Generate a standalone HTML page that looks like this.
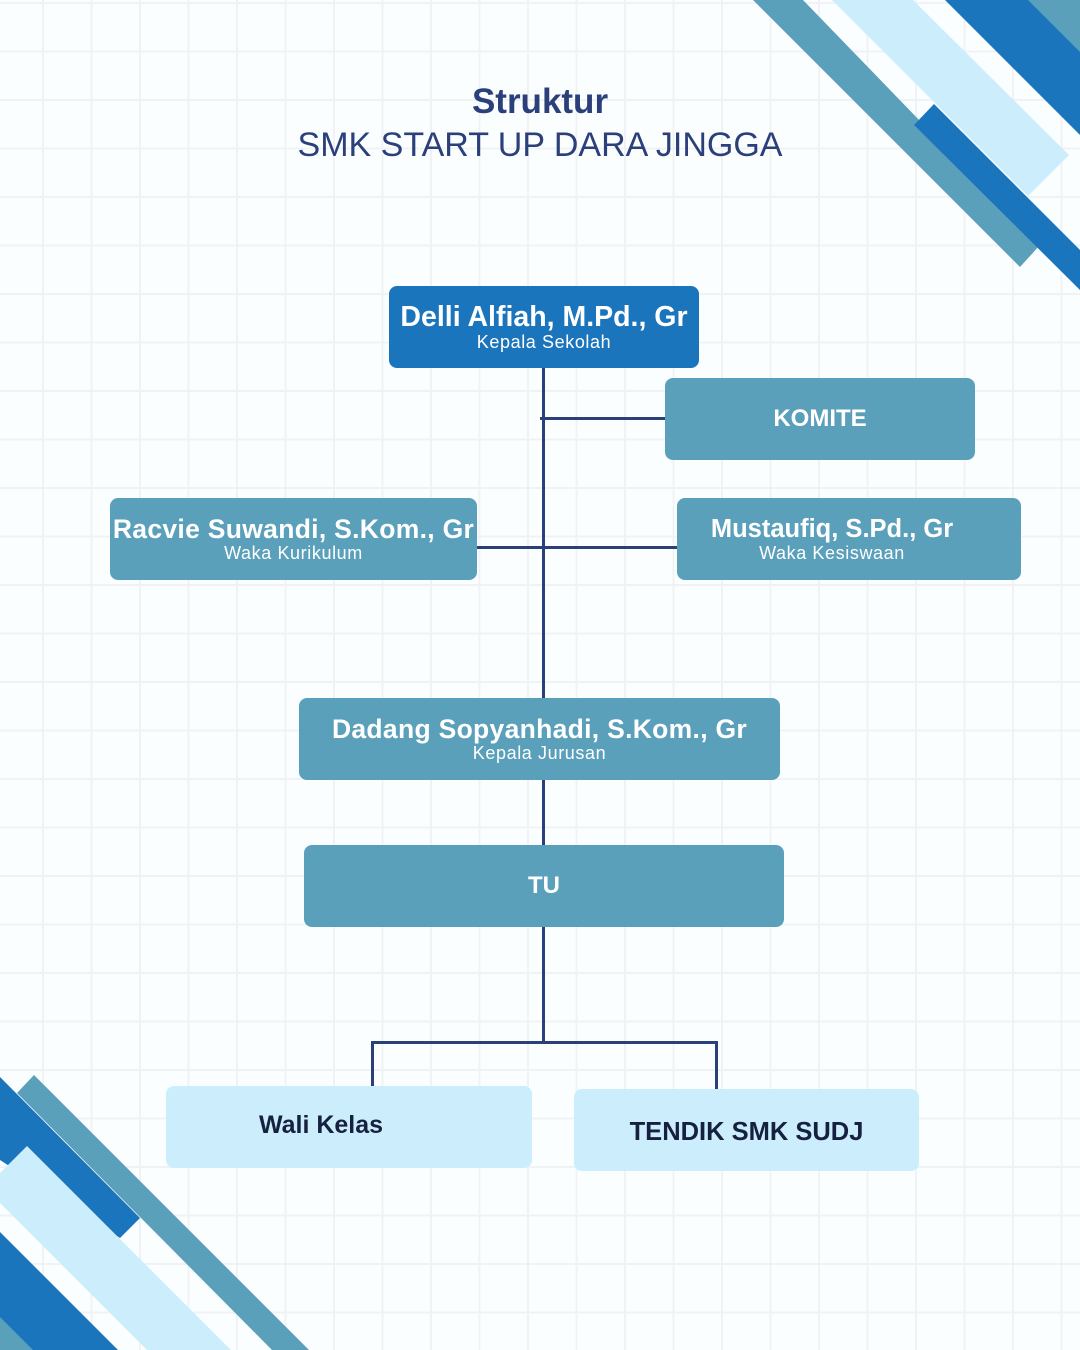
<!DOCTYPE html>
<html><head><meta charset="utf-8"><style>
html,body{margin:0;padding:0}
body{width:1080px;height:1350px;position:relative;overflow:hidden;font-family:"Liberation Sans",sans-serif;
background-color:#fbfeff;
background-image:linear-gradient(#f0f2f5 2px,transparent 2px),linear-gradient(90deg,#f0f2f5 2px,transparent 2px);
background-size:48.5px 48.5px;background-position:42px 2px;}
.b{position:absolute;border-radius:8px;color:#fff;text-align:center;display:flex;flex-direction:column;justify-content:center;align-items:center}
.n{font-weight:bold;font-size:25px;line-height:28px;white-space:nowrap}
.r{font-size:18px;line-height:20px;letter-spacing:.6px}
.t{background:#5ba0bb}
.l{background:#cceefc;color:#16203f}
.ln{position:absolute;background:#2b3f7a}
</style></head><body>
<svg width="1080" height="1350" style="position:absolute;left:0;top:0">
<polygon points="753,0 803,0 1040,245 1020,267" fill="#5ba0bb"/>
<polygon points="934,104 1080,250 1080,290 914,125" fill="#1b75bc"/>
<polygon points="832,0 913,0 1069,155 1028,196" fill="#cceefc"/>
<polygon points="945,0 1080,0 1080,135" fill="#1b75bc"/>
<polygon points="1028,0 1080,0 1080,52" fill="#5ba0bb"/>
<polygon points="17,1093 34,1075 309,1350 272,1350" fill="#5ba0bb"/>
<polygon points="0,1077 140,1218 120,1238 0,1160" fill="#1b75bc"/>
<polygon points="0,1173 27,1146 231,1350 147,1350 0,1203" fill="#cceefc"/>
<polygon points="0,1232 118,1350 0,1350" fill="#1b75bc"/>
<polygon points="0,1317 33,1350 0,1350" fill="#5ba0bb"/>
</svg>
<div style="position:absolute;left:0;width:1080px;top:82px;text-align:center;color:#2b3f7a;font-weight:bold;font-size:35px;line-height:40px">Struktur</div>
<div style="position:absolute;left:0;width:1080px;top:125px;text-align:center;color:#2b3f7a;font-size:34px;line-height:40px">SMK START UP DARA JINGGA</div>

<div class="ln" style="left:542px;top:368px;width:3px;height:676px"></div>
<div class="ln" style="left:540px;top:417px;width:126px;height:3px"></div>
<div class="ln" style="left:477px;top:546px;width:201px;height:3px"></div>
<div class="ln" style="left:371px;top:1041px;width:347px;height:3px;border-radius:3px"></div>
<div class="ln" style="left:371px;top:1041px;width:3px;height:46px"></div>
<div class="ln" style="left:715px;top:1041px;width:3px;height:48px"></div>

<div class="b" style="left:389px;top:286px;width:310px;height:82px;background:#1b75bc"><div class="n" style="font-size:28.5px;line-height:30px">Delli Alfiah, M.Pd., Gr</div><div class="r">Kepala Sekolah</div></div>
<div class="b t" style="left:665px;top:378px;width:310px;height:82px"><div class="n" style="font-size:24px">KOMITE</div></div>
<div class="b t" style="left:110px;top:498px;width:367px;height:82px"><div class="n" style="font-size:26.5px;letter-spacing:.3px">Racvie Suwandi, S.Kom., Gr</div><div class="r">Waka Kurikulum</div></div>
<div class="b t" style="left:677px;top:498px;width:344px;height:82px;padding-right:34px;box-sizing:border-box"><div class="n" style="font-size:25.5px">Mustaufiq, S.Pd., Gr</div><div class="r">Waka Kesiswaan</div></div>
<div class="b t" style="left:299px;top:698px;width:481px;height:82px"><div class="n" style="font-size:26.5px;letter-spacing:.3px">Dadang Sopyanhadi, S.Kom., Gr</div><div class="r">Kepala Jurusan</div></div>
<div class="b t" style="left:304px;top:845px;width:480px;height:82px"><div class="n" style="font-size:24px">TU</div></div>
<div class="b l" style="left:166px;top:1086px;width:366px;height:82px;padding-right:56px;box-sizing:border-box;padding-bottom:4px"><div class="n" style="font-size:25px">Wali Kelas</div></div>
<div class="b l" style="left:574px;top:1089px;width:345px;height:82px;padding-right:0px;box-sizing:border-box;padding-top:4px"><div class="n" style="font-size:25.5px">TENDIK SMK SUDJ</div></div>
</body></html>
